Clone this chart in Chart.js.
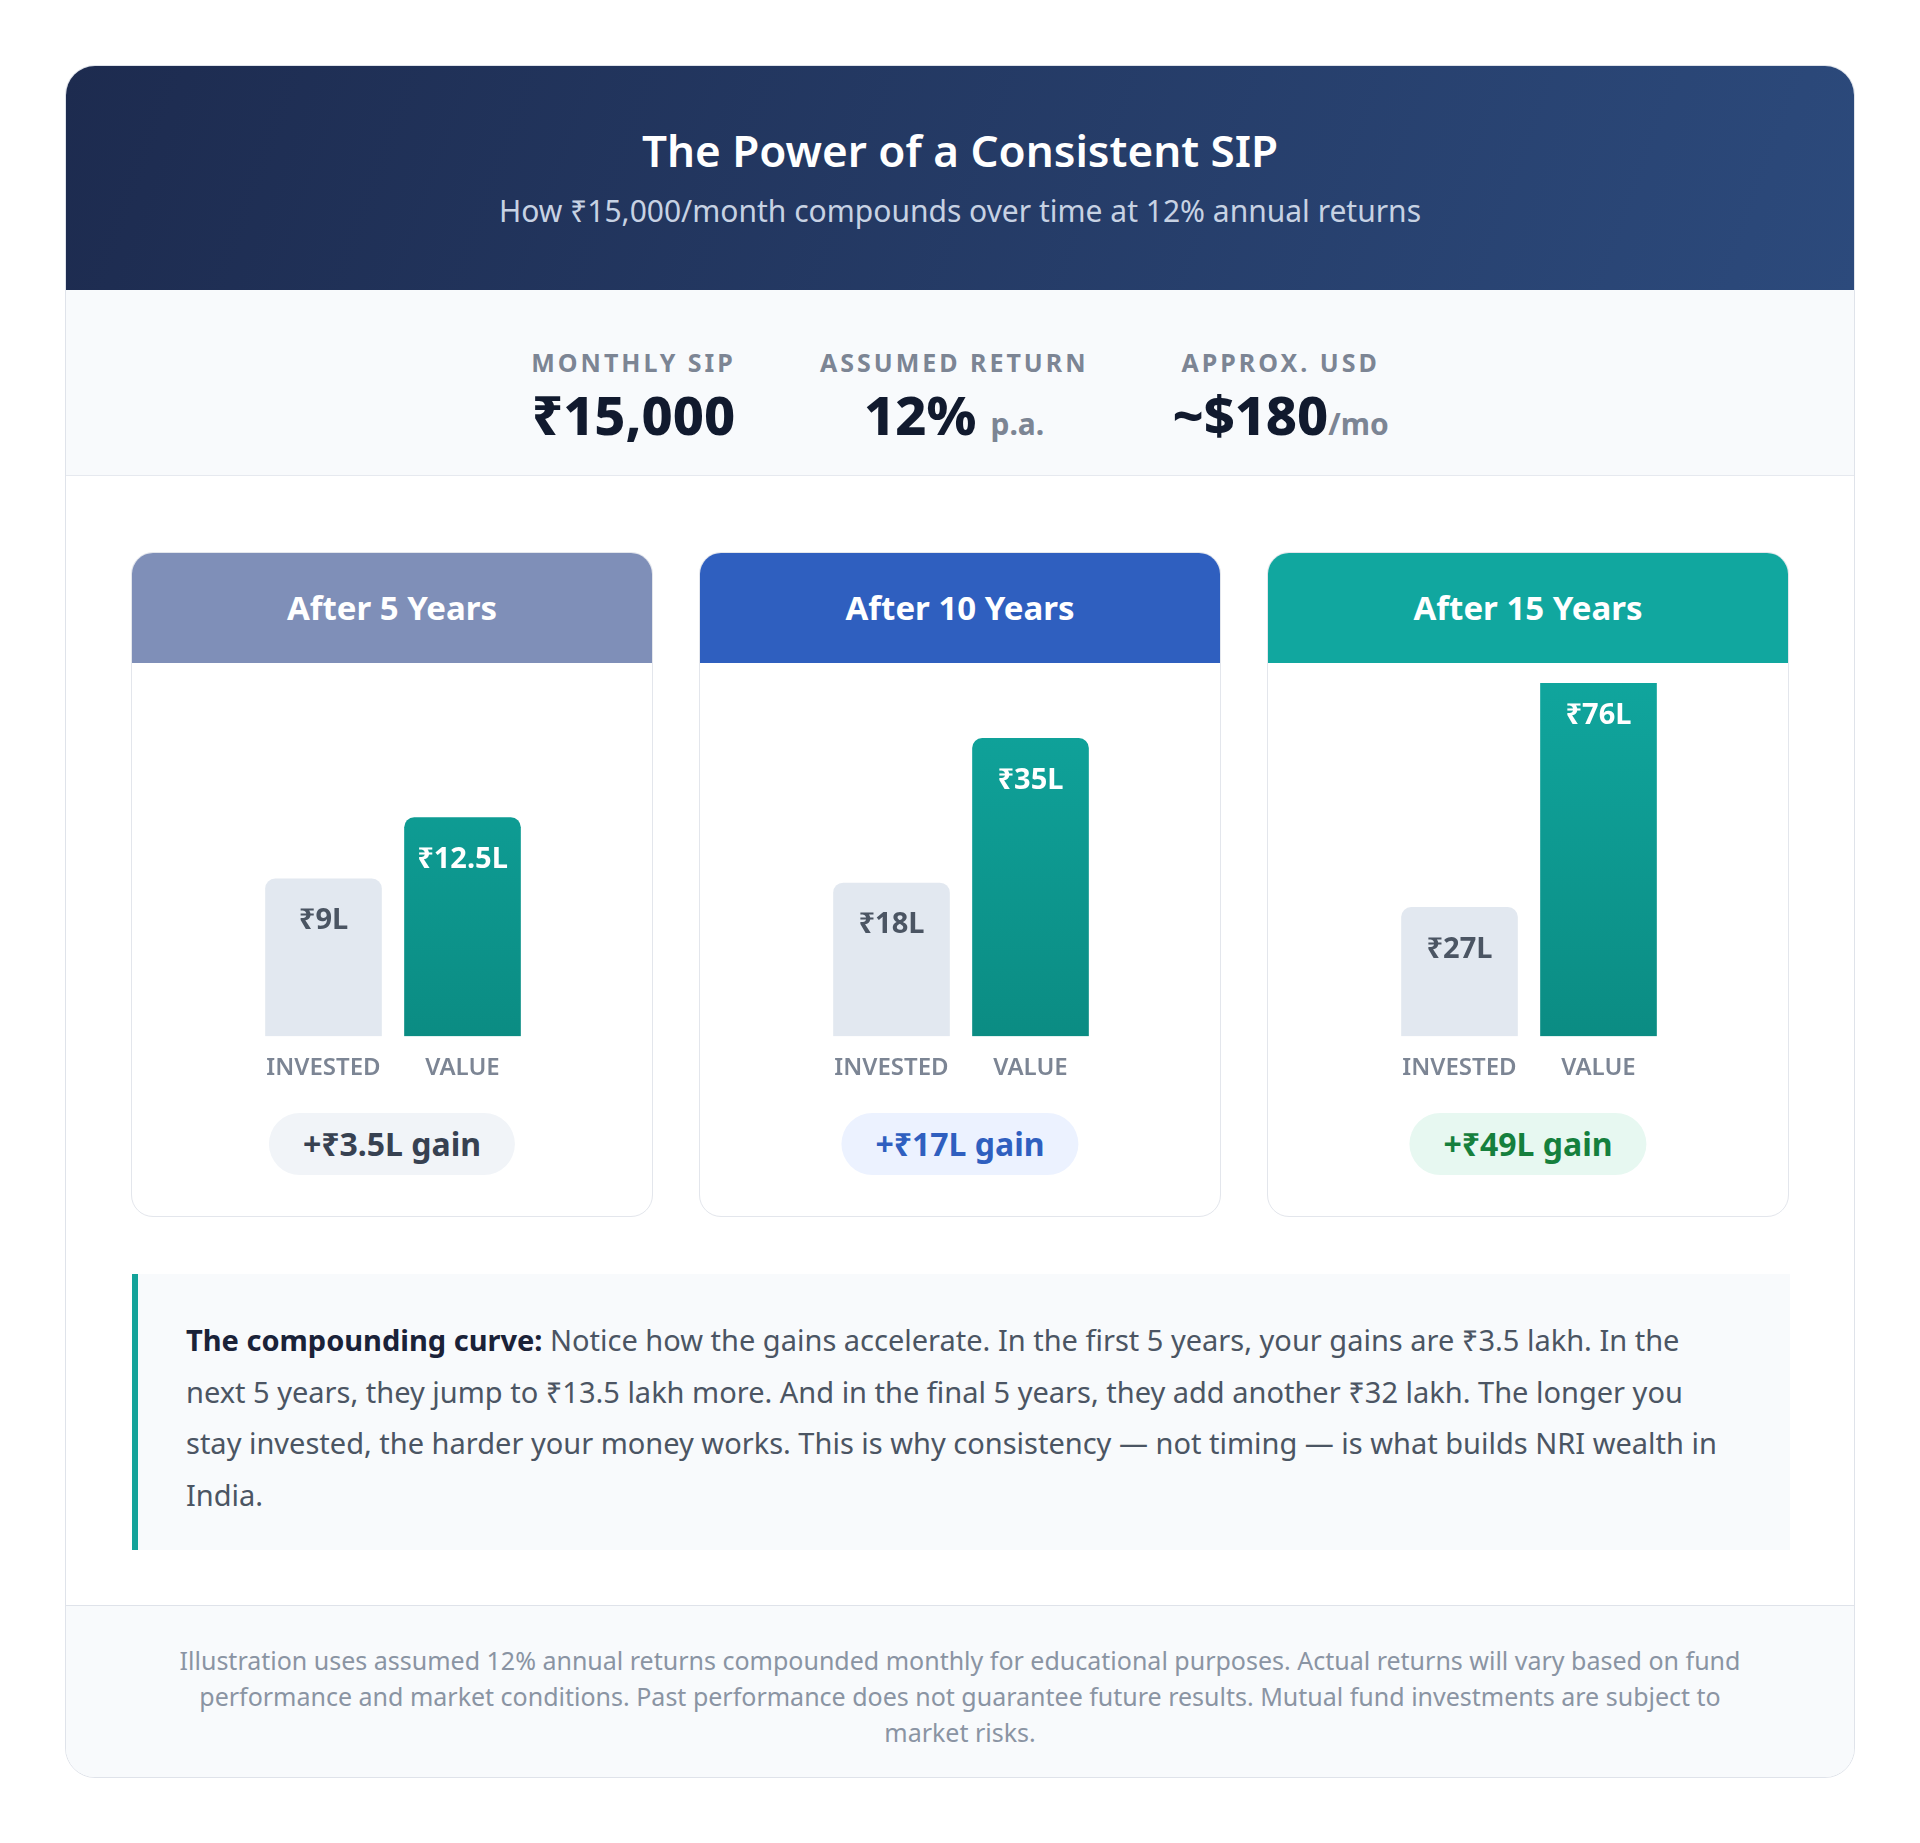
<!DOCTYPE html>
<html><head><meta charset="utf-8">
<script src="https://cdn.jsdelivr.net/npm/chart.js@4"></script>
<style>
*{box-sizing:border-box;margin:0;padding:0}
body{width:1920px;height:1843px;background:#fff;font-family:"Noto Sans",sans-serif;position:relative}
.card{position:absolute;left:65px;top:65px;width:1790px;height:1713px;border:1.5px solid #dfe3ea;border-radius:30px;overflow:hidden;background:#fff}
.hdr{height:224px;background:linear-gradient(110deg,#1d2b4f,#2c4a7c);text-align:center;color:#fff;padding-top:60px}
.hdr h1{font-size:44px;font-weight:600;line-height:1.1}
.hdr p{font-size:30px;color:#c7d2e3;margin-top:16px}
.stats{height:186px;background:#f8fafc;border-bottom:1.5px solid #e6e9ef;display:flex;justify-content:center;gap:84px;padding-top:55px}
.st{text-align:center}
.st .l{font-size:25px;font-weight:700;letter-spacing:3px;color:#7c8594}
.st .v{font-size:54px;font-weight:800;color:#111a2e;line-height:1.3}
.st .v small{font-size:30px;color:#7c8594;font-weight:700}
.panel{position:absolute;top:552px;width:522px;height:665px;border:1.5px solid #e3e6ec;border-radius:22px;overflow:hidden;background:#fff}
.ph{height:110px;color:#fff;font-size:33px;font-weight:700;text-align:center;line-height:110px}
.cw{position:absolute;left:122px;top:130px;width:278px;height:410px}
.pill{position:absolute;top:560px;left:50%;transform:translateX(-50%);height:62px;line-height:62px;padding:0 34px;border-radius:31px;font-size:32px;font-weight:700;white-space:nowrap}
.call{position:absolute;left:66px;top:1208px;width:1658px;height:276px;background:#f8fafc;border-left:6px solid #13a39a;padding:40px 50px 0 48px;font-size:29px;line-height:51.5px;color:#4b5563}
.call b{color:#1a2238}
.foot{position:absolute;left:0;top:1539px;width:100%;height:174px;background:#f8fafc;border-top:1.5px solid #dfe3ea;text-align:center;padding:36px 90px 0;font-size:25px;line-height:36px;color:#8a94a3}
</style></head><body>
<div class="card">
<div class="hdr"><h1>The Power of a Consistent SIP</h1><p>How ₹15,000/month compounds over time at 12% annual returns</p></div>
<div class="stats">
<div class="st"><div class="l">MONTHLY SIP</div><div class="v">₹15,000</div></div>
<div class="st"><div class="l">ASSUMED RETURN</div><div class="v">12% <small>p.a.</small></div></div>
<div class="st"><div class="l">APPROX. USD</div><div class="v">~$180<small>/mo</small></div></div>
</div>
<div class="call"><b>The compounding curve:</b> Notice how the gains accelerate. In the first 5 years, your gains are ₹3.5 lakh. In the next 5 years, they jump to ₹13.5 lakh more. And in the final 5 years, they add another ₹32 lakh. The longer you stay invested, the harder your money works. This is why consistency — not timing — is what builds NRI wealth in India.</div>
<div class="foot">Illustration uses assumed 12% annual returns compounded monthly for educational purposes. Actual returns will vary based on fund performance and market conditions. Past performance does not guarantee future results. Mutual fund investments are subject to market risks.</div>
</div>
<div id="panels"></div>
<script>
const periods=["After 5 Years","After 10 Years","After 15 Years"];
const categories=["INVESTED","VALUE"];
const invested=[9,18,27];
const value=[12.5,35,76];
const investedLabels=["₹9L","₹18L","₹27L"];
const valueLabels=["₹12.5L","₹35L","₹76L"];
const gainLabels=["+₹3.5L gain","+₹17L gain","+₹49L gain"];
const axisMax=[20.2,41.5,74];
const headColors=["#7f8fb8","#2f5fbf","#11a79f"];
const pillBg=["#f1f4f8","#ecf2ff","#e7f8f1"];
const pillFg=["#374151","#2f5fbf","#15803d"];
const lefts=[131,699,1267];
const host=document.getElementById('panels');
const labelPlugin={id:'lbl',afterDatasetsDraw(c){const ctx=c.ctx;const m=c.getDatasetMeta(0);const i=c.options.plugins.lbl.i;
 const txt=[investedLabels[i],valueLabels[i]];
 m.data.forEach((b,k)=>{ctx.save();ctx.font='700 29px "Noto Sans"';ctx.textAlign='center';ctx.textBaseline='middle';ctx.fillStyle=k?'#ffffff':'#4b5563';ctx.fillText(txt[k],b.x,b.y+42);ctx.restore();});}};
periods.forEach((p,i)=>{
 const d=document.createElement('div');d.className='panel';d.style.left=lefts[i]+'px';
 d.innerHTML=`<div class="ph" style="background:${headColors[i]}">${p}</div><div class="cw"><canvas></canvas></div><div class="pill" style="background:${pillBg[i]};color:${pillFg[i]}">${gainLabels[i]}</div>`;
 host.appendChild(d);
 const cv=d.querySelector('canvas');
 new Chart(cv,{type:'bar',data:{labels:categories,datasets:[{data:[invested[i],value[i]],
  backgroundColor:(ctx)=>{if(ctx.dataIndex===0)return '#e2e8f0';const ca=ctx.chart.chartArea;if(!ca)return '#0d9f98';const g=ctx.chart.ctx.createLinearGradient(0,ca.top,0,ca.bottom);g.addColorStop(0,'#10a59d');g.addColorStop(1,'#0b8c83');return g;},
  borderRadius:{topLeft:10,topRight:10},borderSkipped:'bottom',barThickness:116}]},
  options:{responsive:true,maintainAspectRatio:false,animation:false,layout:{padding:0},
   plugins:{legend:{display:false},tooltip:{enabled:false},lbl:{i}},
   scales:{y:{display:false,min:0,max:axisMax[i]},x:{grid:{display:false},border:{display:false},ticks:{color:'#7c8594',font:{size:24,weight:'600',family:'Noto Sans'},padding:10}}}},
  plugins:[labelPlugin]});
});
</script>
</body></html>
